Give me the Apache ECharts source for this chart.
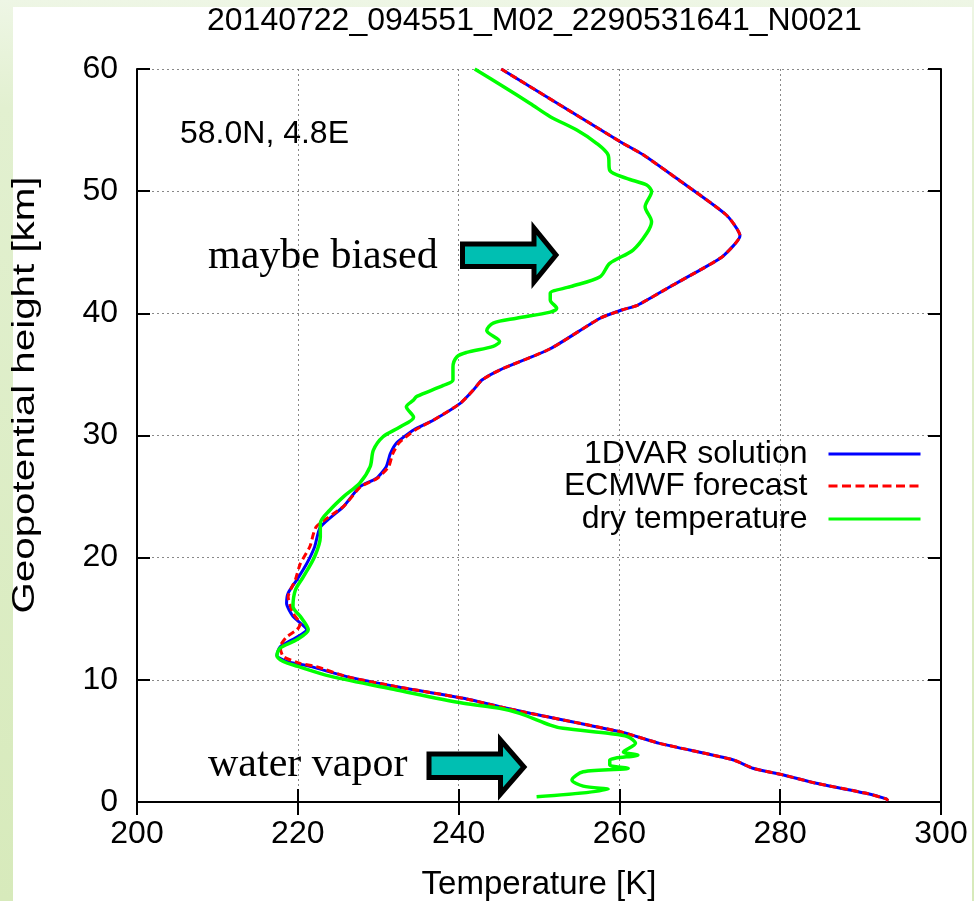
<!DOCTYPE html>
<html>
<head>
<meta charset="utf-8">
<script src="https://cdn.jsdelivr.net/npm/echarts@6/dist/echarts.min.js"></script>
<style>
html,body{margin:0;padding:0;}
#chart{width:974px;height:901px;}
</style>
</head>
<body>
<div id="chart"></div>
<script>
// ---- data (temperature in K, geopotential height in km) ----
const xTicks = [200, 220, 240, 260, 280, 300];
const yTicks = [0, 10, 20, 30, 40, 50, 60];

const dvarHeight = [60, 54.05, 52.96, 51.05, 48.05, 46.36, 44.69, 43.68, 42.18, 40.68, 40.27, 39.6, 37.1, 35.36, 34.54, 33.7, 32.63, 31.27, 30.45, 29.4, 28.5, 27.45, 26.5, 25.8, 24.2, 22.5, 20.9, 19.5, 18.2, 17.1, 16.26, 15.2, 14.1, 13.5, 12.7, 12.0, 11.5, 11.1, 10.26, 9.44, 8.49, 7.8, 7.26, 5.75, 4.8, 3.44, 2.76, 2.21, 1.53, 0.71, 0.25, 0.1];
const dvarTemp   = [245.3, 260.1, 263.0, 267.1, 273.3, 275.0, 272.9, 270.4, 266.3, 262.3, 260.3, 257.6, 251.4, 245.1, 242.9, 241.8, 240.2, 236.9, 234.4, 232.3, 231.5, 231.0, 229.8, 227.7, 225.7, 222.8, 222.1, 221.1, 219.9, 218.8, 218.6, 219.4, 221.1, 219.9, 217.8, 217.4, 218.6, 221.5, 226.1, 232.3, 240.6, 245.1, 248.9, 260.1, 265.0, 274.2, 276.6, 280.4, 284.5, 290.7, 293.2, 293.4];

const ecmwfHeight = [60, 54.05, 52.96, 51.05, 48.05, 46.36, 44.69, 43.68, 42.18, 40.68, 40.27, 39.6, 37.1, 35.36, 34.54, 33.7, 32.63, 31.27, 30.45, 29.4, 28.5, 27.45, 26.5, 25.8, 24.2, 22.53, 20.9, 19.5, 18.2, 16.8, 15.45, 14.6, 14.1, 13.5, 12.7, 11.9, 11.35, 11.08, 10.26, 9.44, 8.49, 7.8, 7.26, 5.75, 4.8, 3.44, 2.76, 2.21, 1.53, 0.71, 0.25, 0.1];
const ecmwfTemp   = [245.3, 260.1, 263.0, 267.1, 273.3, 275.0, 272.9, 270.4, 266.3, 262.3, 260.3, 257.6, 251.4, 245.1, 242.9, 241.8, 240.2, 236.9, 234.6, 232.6, 231.8, 231.3, 229.9, 227.8, 225.7, 222.3, 221.5, 220.3, 219.7, 218.8, 219.4, 220.3, 219.9, 218.6, 217.8, 218.2, 220.3, 222.3, 226.1, 232.3, 240.6, 245.1, 248.9, 260.1, 265.0, 274.2, 276.6, 280.4, 284.5, 290.7, 293.2, 293.4];

const dryHeight = [60, 58.55, 57.18, 56.1, 55.0, 53.9, 52.96, 51.7, 51.05, 50.5, 49.95, 48.73, 47.5, 46.55, 45.18, 44.09, 43.0, 42.18, 41.64, 41.1, 40.41, 40.1, 39.6, 39.2, 38.6, 37.7, 37.3, 36.8, 36.45, 35.6, 34.55, 34.1, 33.2, 32.9, 32.35, 31.5, 30.7, 29.9, 28.8, 27.45, 26.1, 25.0, 23.9, 22.8, 21.7, 20.1, 18.45, 17.35, 16.0, 15.2, 14.1, 13.3, 12.6, 12.0, 11.5, 11.1, 10.3, 9.17, 8.08, 7.67, 7.26, 6.3, 6.03, 5.6, 5.35, 4.8, 4.1, 3.85, 3.44, 3.03, 2.76, 2.48, 1.8, 1.3, 1.04, 0.43];
const dryTemp   = [242.0, 245.6, 248.9, 251.4, 254.7, 257.2, 258.6, 258.8, 260.9, 263.4, 264.0, 263.2, 264.0, 263.4, 261.7, 258.8, 257.6, 253.9, 251.4, 251.4, 252.2, 251.4, 247.2, 244.3, 243.5, 245.1, 244.3, 241.0, 239.8, 239.3, 239.3, 238.1, 234.8, 234.4, 233.5, 234.4, 232.7, 230.6, 229.4, 229.0, 227.7, 225.7, 224.0, 222.8, 222.8, 222.1, 220.7, 219.7, 219.4, 220.3, 221.3, 219.9, 217.8, 217.4, 218.2, 220.0, 224.0, 232.3, 240.6, 245.1, 247.6, 251.4, 253.0, 258.8, 261.0, 262.0, 260.5, 262.3, 258.8, 258.8, 261.1, 255.5, 254.1, 255.5, 258.6, 249.7];

const seriesNames = ['1DVAR solution', 'ECMWF forecast', 'dry temperature'];
const seriesColors = ['#0000ff', '#ff0000', '#00ff00'];
const seriesDash = ['solid', [7, 4], 'solid'];

function pairs(t, h) { return t.map((v, i) => [v, h[i]]); }

const FONT = '"Liberation Sans", Arial, Helvetica, sans-serif';
const SERIF = '"Liberation Serif", "Times New Roman", serif';

const chart = echarts.init(document.getElementById('chart'), null, {renderer: 'canvas'});

function arrow(x0, yTop, yBot, xBack, hTop, hBot, xTip) {
  const yMid = (hTop + hBot) / 2;
  return {
    type: 'polygon',
    z: 50,
    shape: {points: [[x0, yTop], [xBack, yTop], [xBack, hTop], [xTip, yMid], [xBack, hBot], [xBack, yBot], [x0, yBot]]},
    style: {fill: '#00bfb2', stroke: '#000', lineWidth: 5, lineJoin: 'miter'}
  };
}

const axisCommon = {
  type: 'value',
  axisLine: {show: true, lineStyle: {color: '#000', width: 2}},
  axisTick: {show: true, inside: true, length: 13, lineStyle: {color: '#000', width: 2}},
};

function legendFor(i, top) {
  return {
    data: [seriesNames[i]],
    orient: 'horizontal',
    right: 52,
    top: top,
    align: 'right',
    padding: 0,
    itemWidth: 92,
    itemHeight: 38,
    selectedMode: false,
    itemStyle: {opacity: 0, borderWidth: 0},
    lineStyle: {width: 3, color: seriesColors[i], type: i === 1 ? [9, 4.5] : 'solid'},
    textStyle: {fontFamily: FONT, fontSize: 32, color: '#000', padding: [0, 16, 0, 0]}
  };
}

const option = {
  backgroundColor: new echarts.graphic.LinearGradient(0, 0, 0, 1, [
    {offset: 0, color: '#eef6e5'},
    {offset: 0.12, color: '#e2f0d0'},
    {offset: 1, color: '#d7eabb'}
  ]),
  animation: false,
  title: {
    text: '20140722_094551_M02_2290531641_N0021',
    left: 207,
    top: 5,
    padding: 0,
    textStyle: {fontFamily: FONT, fontSize: 32, fontWeight: 'normal', color: '#000'}
  },
  grid: {left: 137, right: 33, top: 69, bottom: 99, containLabel: false, outerBoundsMode: 'none'},
  legend: [legendFor(0, 438), legendFor(1, 470), legendFor(2, 503)],
  xAxis: [
    Object.assign({}, axisCommon, {
      position: 'bottom', min: 200, max: 300, interval: 20,
      name: 'Temperature [K]', nameLocation: 'middle', nameGap: 66,
      nameTextStyle: {fontFamily: FONT, fontSize: 33, color: '#000'},
      axisLabel: {fontFamily: FONT, fontSize: 32, color: '#000', margin: 16,
        formatter: v => xTicks.includes(v) ? String(v) : ''},
      splitLine: {show: true, lineStyle: {color: '#888', width: 1, type: [2, 3]}}
    }),
    Object.assign({}, axisCommon, {
      position: 'top', min: 200, max: 300, interval: 20,
      axisLabel: {show: false}, splitLine: {show: false}
    })
  ],
  yAxis: [
    Object.assign({}, axisCommon, {
      position: 'left', min: 0, max: 60, interval: 10,
      axisLabel: {fontFamily: FONT, fontSize: 32, color: '#000', margin: 19,
        formatter: v => yTicks.includes(v) ? String(v) : ''},
      splitLine: {show: true, lineStyle: {color: '#888', width: 1, type: [2, 3]}}
    }),
    Object.assign({}, axisCommon, {
      position: 'right', min: 0, max: 60, interval: 10,
      axisLabel: {show: false}, splitLine: {show: false}
    })
  ],
  series: [0, 1, 2].map(i => ({
    name: seriesNames[i], type: 'line', xAxisIndex: 0, yAxisIndex: 0,
    data: i === 0 ? pairs(dvarTemp, dvarHeight) : i === 1 ? pairs(ecmwfTemp, ecmwfHeight) : pairs(dryTemp, dryHeight),
    symbol: 'none', showSymbol: false, smooth: i === 2 ? 0.3 : 0.2,
    lineStyle: {color: seriesColors[i], width: i === 2 ? 3.5 : 3, type: seriesDash[i]},
    itemStyle: {color: seriesColors[i]}, z: 2 + i
  })),
  graphic: [
    {type: 'rect', z: -100, silent: true, shape: {x: 13, y: 7, width: 959, height: 894}, style: {fill: '#ffffff'}},
    {type: 'text', z: 50, x: 25, y: 395, rotation: Math.PI / 2, scaleX: 1.26,
      style: {text: 'Geopotential height [km]', font: '32px ' + FONT, fill: '#000', align: 'center', verticalAlign: 'middle'}},
    {type: 'text', z: 50, left: 180, top: 118, style: {text: '58.0N, 4.8E', font: '32px ' + FONT, fill: '#000'}},
    {type: 'text', z: 50, left: 208, top: 236, style: {text: 'maybe biased', font: '42px ' + SERIF, fill: '#000'}},
    {type: 'text', z: 50, left: 208, top: 744, style: {text: 'water vapor', font: '42px ' + SERIF, fill: '#000'}},
    arrow(462.5, 244, 266.5, 534, 228, 282, 556),
    arrow(429, 754, 777.5, 500.5, 740, 794, 524)
  ]
};

chart.setOption(option);
</script>
</body>
</html>
